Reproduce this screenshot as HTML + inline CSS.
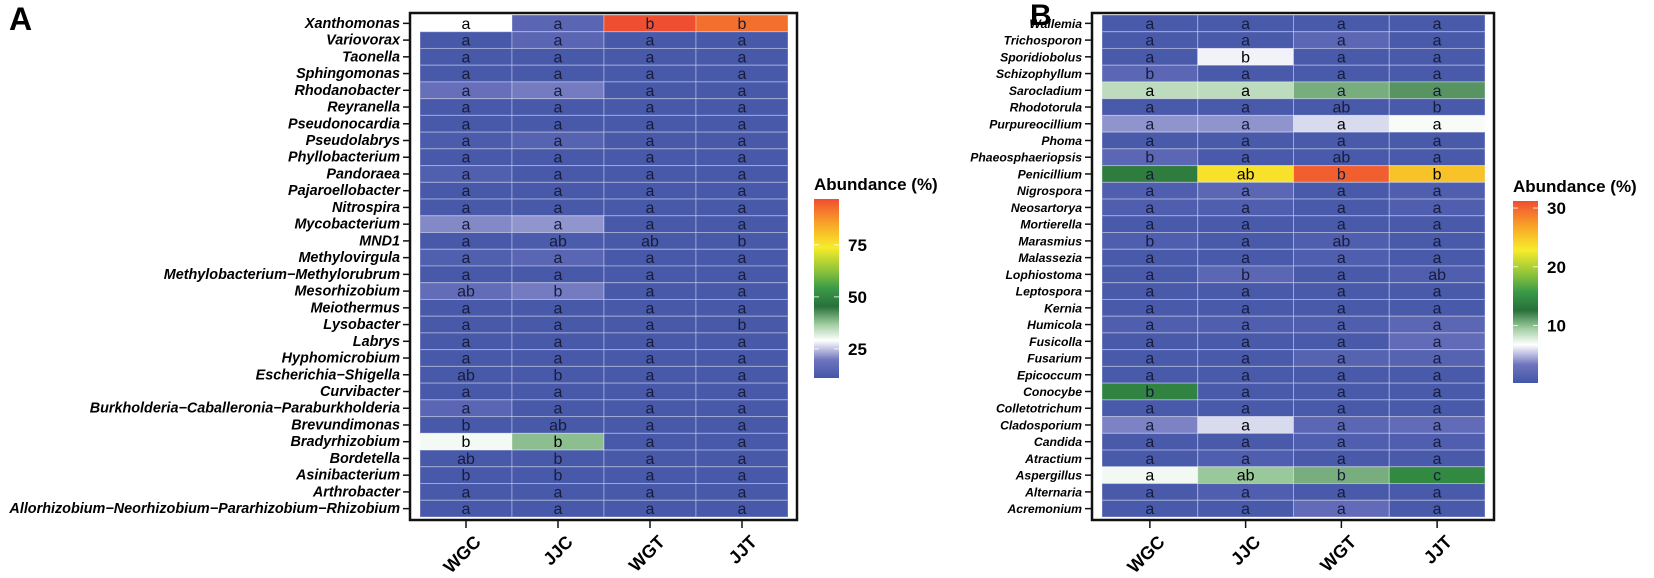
<!DOCTYPE html>
<html><head><meta charset="utf-8">
<style>
html,body{margin:0;padding:0;background:#fff;}
svg{display:block;}
.yl{font-family:"Liberation Sans",sans-serif;font-weight:bold;font-style:italic;}
.cl{font-family:"Liberation Sans Narrow","Liberation Sans",sans-serif;font-size:16px;}
.xl{font-family:"Liberation Sans",sans-serif;font-weight:bold;font-size:18px;}
.tt{font-family:"Liberation Sans",sans-serif;font-weight:bold;font-size:17px;}
</style></head>
<body>
<svg id="chart" width="1654" height="578" viewBox="0 0 1654 578" xmlns="http://www.w3.org/2000/svg">
<text x="9" y="30" font-family="Liberation Sans,sans-serif" font-weight="bold" font-size="32">A</text>
<text x="1030" y="25" font-family="Liberation Sans,sans-serif" font-weight="bold" font-size="30">B</text>
<g id="panelA"></g>
<g id="panelB"></g>
</svg>
<script>
const groups = ["WGC","JJC","WGT","JJT"];
const bactGenera = ["Xanthomonas","Variovorax","Taonella","Sphingomonas","Rhodanobacter","Reyranella","Pseudonocardia","Pseudolabrys","Phyllobacterium","Pandoraea","Pajaroellobacter","Nitrospira","Mycobacterium","MND1","Methylovirgula","Methylobacterium\u2212Methylorubrum","Mesorhizobium","Meiothermus","Lysobacter","Labrys","Hyphomicrobium","Escherichia\u2212Shigella","Curvibacter","Burkholderia\u2212Caballeronia\u2212Paraburkholderia","Brevundimonas","Bradyrhizobium","Bordetella","Asinibacterium","Arthrobacter","Allorhizobium\u2212Neorhizobium\u2212Pararhizobium\u2212Rhizobium"];
const bactValues = [[20,5,95,90],[1,5,1,1],[1,1,1,1],[1,1,1,1],[8,10,1,1],[1,1,1,1],[1,1,1,1],[2,4,1,1],[1,1,1,1],[3,1,1,1],[1,1,1,1],[1,1,1,1],[11,12,1,1],[1,2,1,1],[3,5,1,1],[1,1,1,1],[7,10,1,1],[1,1,1,1],[1,1,1,1],[1,1,1,1],[1,1,1,1],[1,1,1,1],[1,1,1,1],[5,1,1,1],[1,1,1,1],[21,30,1,1],[1,1,1,1],[1,1,1,1],[1,1,1,1],[1,1,1,1]];
const bactLetters = [["a","a","b","b"],["a","a","a","a"],["a","a","a","a"],["a","a","a","a"],["a","a","a","a"],["a","a","a","a"],["a","a","a","a"],["a","a","a","a"],["a","a","a","a"],["a","a","a","a"],["a","a","a","a"],["a","a","a","a"],["a","a","a","a"],["a","ab","ab","b"],["a","a","a","a"],["a","a","a","a"],["ab","b","a","a"],["a","a","a","a"],["a","a","a","b"],["a","a","a","a"],["a","a","a","a"],["ab","b","a","a"],["a","a","a","a"],["a","a","a","a"],["b","ab","a","a"],["b","b","a","a"],["ab","b","a","a"],["b","b","a","a"],["a","a","a","a"],["a","a","a","a"]];
const bactTicks = [25,50,75];
const fungGenera = ["Wallemia","Trichosporon","Sporidiobolus","Schizophyllum","Sarocladium","Rhodotorula","Purpureocillium","Phoma","Phaeosphaeriopsis","Penicillium","Nigrospora","Neosartorya","Mortierella","Marasmius","Malassezia","Lophiostoma","Leptospora","Kernia","Humicola","Fusicolla","Fusarium","Epicoccum","Conocybe","Colletotrichum","Cladosporium","Candida","Atractium","Aspergillus","Alternaria","Acremonium"];
const fungValues = [[0.5,0.5,0.5,0.5],[0.5,0.5,2,0.5],[0.5,7.2,0.5,0.5],[2,0.5,0.5,0.5],[9.8,9.8,12,13],[0.5,0.5,0.5,0.5],[4.5,4.5,6.5,7.8],[0.5,0.5,0.5,0.5],[2,0.5,0.5,0.5],[15.5,27,35,29],[1,2,0.5,1],[1,1,0.5,1],[0.5,0.5,0.5,0.5],[1,0.5,1,0.5],[0.5,0.5,1,0.5],[0.5,2,0.5,1],[0.5,0.5,0.5,0.5],[0.5,0.5,0.5,0.5],[1,1,1,2],[0.5,0.5,0.5,2.5],[0.5,0.5,1.5,1.5],[0.5,0.5,0.5,0.5],[16,0.5,0.5,0.5],[0.5,0.5,0.5,0.5],[4,6.5,2,2.5],[0.5,0.5,1,1],[0.5,1,0.5,0.5],[8,11,12,16.5],[0.5,1,0.5,0.5],[0.5,0.5,2.5,0.5]];
const fungLetters = [["a","a","a","a"],["a","a","a","a"],["a","b","a","a"],["b","a","a","a"],["a","a","a","a"],["a","a","ab","b"],["a","a","a","a"],["a","a","a","a"],["b","a","ab","a"],["a","ab","b","b"],["a","a","a","a"],["a","a","a","a"],["a","a","a","a"],["b","a","ab","a"],["a","a","a","a"],["a","b","a","ab"],["a","a","a","a"],["a","a","a","a"],["a","a","a","a"],["a","a","a","a"],["a","a","a","a"],["a","a","a","a"],["b","a","a","a"],["a","a","a","a"],["a","a","a","a"],["a","a","a","a"],["a","a","a","a"],["a","ab","b","c"],["a","a","a","a"],["a","a","a","a"]];
const fungTicks = [10,20,30];

const stops=[[0,[67,86,168]],[0.1,[110,116,190]],[0.21,[255,255,255]],[0.3,[160,205,160]],[0.4,[40,112,58]],[0.5,[58,154,72]],[0.6,[143,196,58]],[0.73,[247,236,42]],[0.86,[249,165,40]],[1,[240,78,48]]];
function colorAt(f){f=Math.max(0,Math.min(1,f));for(let i=1;i<stops.length;i++){if(f<=stops[i][0]){const a=stops[i-1],b=stops[i];const t=(f-a[0])/(b[0]-a[0]);const c=a[1].map((v,k)=>Math.round(v+(b[1][k]-v)*t));return `rgb(${c[0]},${c[1]},${c[2]})`;}}return 'rgb(240,78,48)';}
function lum(f){const m=colorAt(f).match(/\d+/g).map(Number);return 0.3*m[0]+0.59*m[1]+0.11*m[2];}
const NS="http://www.w3.org/2000/svg";
function mk(tag,attrs,parent){const e=document.createElementNS(NS,tag);for(const k in attrs)e.setAttribute(k,attrs[k]);parent.appendChild(e);return e;}

function drawPanel(g,cfg,genera,values,letters,ticks){
  const top=15,rowH=(517-15)/genera.length,colW=(cfg.x1-cfg.x0)/groups.length;
  const xs=i=>cfg.x0+i*colW, ys=j=>top+j*rowH;
  const frame=mk('rect',{x:cfg.x0-10,y:13,width:(cfg.x1-cfg.x0)+19,height:507,fill:'none',stroke:'#111','stroke-width':2.5},g);
  
  
  genera.forEach((name,j)=>{
    const lab=mk('text',{x:cfg.x0-20,y:ys(j)+rowH/2+4.5,'text-anchor':'end','font-size':cfg.fs,class:'yl'},g);
    lab.textContent=name;
    
    
    const tk=mk('line',{x1:cfg.x0-17,x2:cfg.x0-10,y1:ys(j)+rowH/2,y2:ys(j)+rowH/2,stroke:'#111','stroke-width':1.5},g);
    
    
    groups.forEach((gr,i)=>{
      const f=values[j][i]/cfg.max;
      const r=mk('rect',{x:xs(i),y:ys(j),width:colW,height:rowH,fill:colorAt(f),stroke:'rgba(255,255,255,0.35)','stroke-width':1},g);
      
      
      const t=mk('text',{x:xs(i)+colW/2,y:ys(j)+rowH/2+5.5,'text-anchor':'middle',class:'cl',fill:lum(f)>170?'#000':'#171c3a'},g);
      t.textContent=letters[j][i];
      
      
    });
  });
  groups.forEach((gr,i)=>{
    const cx=xs(i)+colW/2;
    const tk=mk('line',{x1:cx,x2:cx,y1:520,y2:528,stroke:'#111','stroke-width':1.5},g);
    
    
    const t=mk('text',{x:cx+16,y:543,'text-anchor':'end',class:'xl',transform:`rotate(-45 ${cx+16} 543)`},g);
    t.textContent=gr;
    
    
  });
  const cb=cfg.cb, cbTop=cb.top, cbBot=cb.bot;
  const yv=v=>cbBot-((v-cb.min)/(cb.max-cb.min))*(cbBot-cbTop);
  const title=mk('text',{x:cb.x,y:cbTop-9,class:'tt'},g);
  title.textContent='Abundance (%)';
  
  
  const gid='grad'+cfg.id;
  const defs=mk('defs',{},g);
  const lg=mk('linearGradient',{id:gid,x1:0,y1:1,x2:0,y2:0},defs);
  stops.forEach(s=>mk('stop',{offset:s[0],'stop-color':colorAt(s[0])},lg));
  const bar=mk('rect',{x:cb.x,y:cbTop,width:25,height:cbBot-cbTop,fill:`url(#${gid})`},g);
  
  
  ticks.forEach(v=>{
    const y=yv(v);
    const l1=mk('line',{x1:cb.x,x2:cb.x+5,y1:y,y2:y,stroke:'rgba(255,255,255,0.8)','stroke-width':1},g);
    
    
    const l2=mk('line',{x1:cb.x+20,x2:cb.x+25,y1:y,y2:y,stroke:'rgba(255,255,255,0.8)','stroke-width':1},g);
    
    
    const t=mk('text',{x:cb.x+34,y:y+6,class:'tt'},g);
    t.textContent=v;
    
    
  });
}
drawPanel(document.getElementById('panelA'),{id:'A',x0:420,x1:788,max:95,fs:14.4,cb:{x:814,top:199,bot:378,min:11,max:97}},bactGenera,bactValues,bactLetters,bactTicks);
drawPanel(document.getElementById('panelB'),{id:'B',x0:1102,x1:1485,max:36,fs:12.2,cb:{x:1513,top:201,bot:383,min:0.2,max:31.2}},fungGenera,fungValues,fungLetters,fungTicks);
</script>
</body></html>
